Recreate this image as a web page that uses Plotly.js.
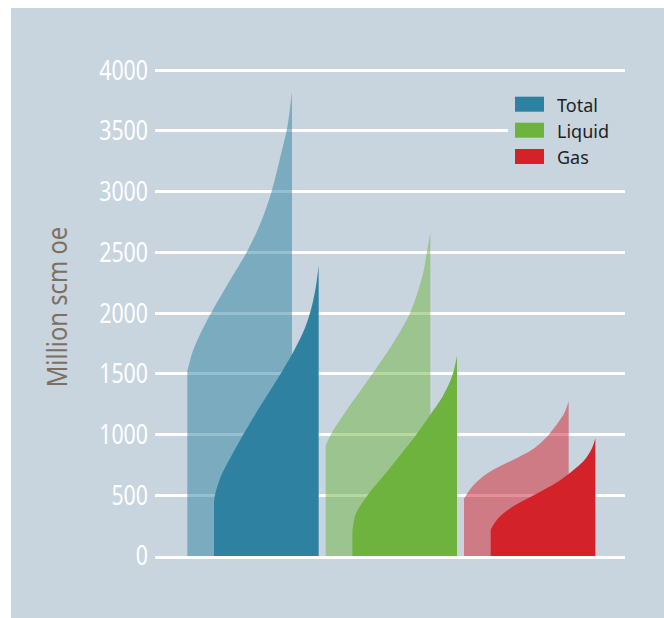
<!DOCTYPE html>
<html>
<head>
<meta charset="utf-8">
<script src="https://cdn.plot.ly/plotly-3.0.1.min.js"></script>
<style>
  html, body { margin: 0; padding: 0; background: #ffffff; }
  #chart { width: 664px; height: 618px; }
  /* condensed look for the axis texts (the reference uses a condensed face) */
  #chart .yaxislayer-above { transform-box: fill-box; transform-origin: 100% 50%; transform: scaleX(0.79); }
  #chart .g-ytitle { transform-box: fill-box; transform-origin: 50% 50%; transform: scaleY(0.85); }
</style>
</head>
<body>
<div id="chart"></div>
<script>
// ---- Data ----
const categories = ['Total', 'Liquid', 'Gas'];
const darkColors = ['#2e81a0', '#6fb33f', '#d4222b'];

// position along each fin (0 = left edge, 1 = peak/right edge) and value (million scm oe)
const totalLightPos  = [0, 0.05, 0.13, 0.23, 0.38, 0.57, 0.69, 0.80, 0.89, 0.955, 1];
const totalLightVal  = [1520, 1680, 1840, 2005, 2230, 2505, 2720, 2985, 3290, 3530, 3825];
const totalDarkPos   = [0, 0.01, 0.07, 0.17, 0.28, 0.44, 0.65, 0.77, 0.87, 0.93, 0.97, 1];
const totalDarkVal   = [445, 505, 665, 830, 1000, 1230, 1520, 1700, 1880, 2040, 2200, 2390];

const liquidLightPos = [0, 0.054, 0.198, 0.452, 0.659, 0.809, 0.929, 0.968, 1];
const liquidLightVal = [910, 1006, 1197, 1507, 1773, 2005, 2319, 2506, 2660];
const liquidDarkPos  = [0, 0.032, 0.149, 0.34, 0.617, 0.77, 0.86, 0.93, 0.97, 1];
const liquidDarkVal  = [199, 345, 505, 704, 1006, 1195, 1310, 1430, 1530, 1649];

const gasLightPos    = [0, 0.074, 0.217, 0.456, 0.56, 0.678, 0.79, 0.9, 0.96, 1];
const gasLightVal    = [472, 567, 677, 787, 832, 892, 980, 1100, 1180, 1274];
const gasDarkPos     = [0, 0.073, 0.216, 0.455, 0.646, 0.774, 0.9, 0.964, 1];
const gasDarkVal     = [218, 312, 409, 521, 614, 696, 795, 880, 970];

const yTicks = [0, 500, 1000, 1500, 2000, 2500, 3000, 3500, 4000];

// ---- Layout constants ----
const FIN_W = 0.7565;     // fin width in category units
const DARK_OFF = 0.193;   // dark fin offset from light fin
const BG = '#c8d5df';

const fins = [
  [totalLightPos, totalLightVal, totalDarkPos, totalDarkVal],
  [liquidLightPos, liquidLightVal, liquidDarkPos, liquidDarkVal],
  [gasLightPos, gasLightVal, gasDarkPos, gasDarkVal]
];

function hexToRgba(hex, a) {
  const n = parseInt(hex.slice(1), 16);
  return 'rgba(' + ((n >> 16) & 255) + ',' + ((n >> 8) & 255) + ',' + (n & 255) + ',' + a + ')';
}

const traces = [];
fins.forEach((f, g) => {
  const [lp, lv, dp, dv] = f;
  traces.push({
    type: 'scatter', mode: 'lines', name: categories[g] + ' (light)',
    x: lp.map(p => g + p * FIN_W), y: lv,
    fill: 'tozeroy', fillcolor: hexToRgba(darkColors[g], 0.5),
    line: { width: 0, shape: 'spline', smoothing: 0.9 },
    hoverinfo: 'skip', showlegend: false
  });
  traces.push({
    type: 'scatter', mode: 'lines', name: categories[g],
    x: dp.map(p => g + DARK_OFF + p * FIN_W), y: dv,
    fill: 'tozeroy', fillcolor: darkColors[g],
    line: { width: 0, shape: 'spline', smoothing: 0.9 },
    hoverinfo: 'skip', showlegend: false
  });
});

// plot area in pixels: x 155..625, y 58..556
const PL = 155, PR = 625, PT = 58, PB = 556;
const px = v => (v - PL) / (PR - PL);
const py = v => (PB - v) / (PB - PT);

const shapes = [
  { type: 'rect', xref: 'paper', yref: 'paper', layer: 'below',
    x0: px(11), x1: px(664), y0: py(618), y1: py(8),
    fillcolor: BG, line: { width: 0 } },
  { type: 'rect', xref: 'paper', yref: 'paper', layer: 'above',
    x0: px(508), x1: px(630), y0: py(170), y1: py(88),
    fillcolor: BG, line: { width: 0 } }
];
const annotations = [];
const swatchTops = [96.7, 122.7, 149];
categories.forEach((c, i) => {
  shapes.push({ type: 'rect', xref: 'paper', yref: 'paper', layer: 'above',
    x0: px(515), x1: px(544), y0: py(swatchTops[i] + 15), y1: py(swatchTops[i]),
    fillcolor: darkColors[i], line: { width: 0 } });
  annotations.push({ xref: 'paper', yref: 'paper', x: px(555), y: py(swatchTops[i] + 7.8),
    xanchor: 'left', yanchor: 'middle', showarrow: false, text: c,
    font: { family: 'Noto Sans, Open Sans, sans-serif', size: 18, color: '#231f20' } });
});

const axisFont = "'Noto Sans', 'Open Sans', sans-serif";

const layout = {
  width: 664, height: 618,
  margin: { l: PL, r: 664 - PR, t: PT, b: 618 - PB, pad: 0 },
  paper_bgcolor: '#ffffff',
  plot_bgcolor: BG,
  showlegend: false,
  xaxis: {
    range: [-0.2335, 3.1637], showgrid: false, zeroline: false,
    showticklabels: false, ticks: '', showline: true, linecolor: '#ffffff', linewidth: 3,
    fixedrange: true
  },
  yaxis: {
    range: [0, 4100], tickvals: yTicks, ticktext: yTicks.map(String),
    showgrid: true, gridcolor: '#ffffff', gridwidth: 3,
    zeroline: true, zerolinecolor: 'rgba(0,0,0,0)',
    showline: false, ticks: '', ticklabelstandoff: 6,
    tickfont: { family: axisFont, size: 27, color: '#ffffff' },
    title: { text: 'Million scm oe', standoff: 10,
             font: { family: axisFont, size: 28, color: '#7d7062' } },
    fixedrange: true
  },
  shapes: shapes,
  annotations: annotations
};

Plotly.newPlot('chart', traces, layout, { displayModeBar: false, staticPlot: true });
</script>
</body>
</html>
